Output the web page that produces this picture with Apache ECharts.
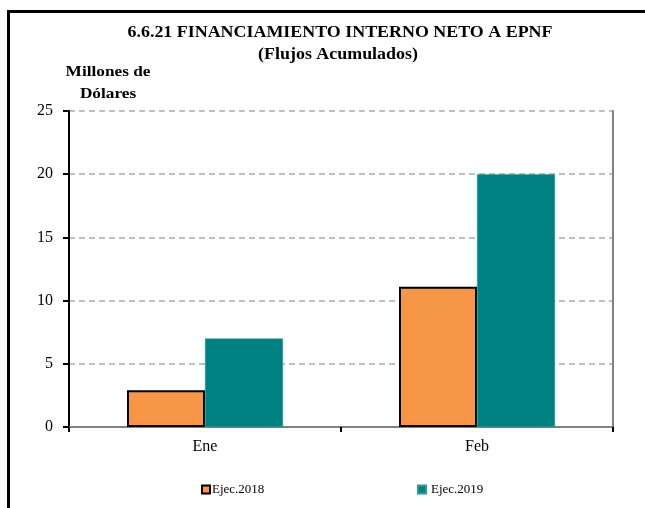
<!DOCTYPE html>
<html>
<head>
<meta charset="utf-8">
<script src="https://cdn.jsdelivr.net/npm/echarts@6/dist/echarts.min.js"></script>
<style>
  html, body { margin: 0; padding: 0; background: #ffffff; }
  #chart { width: 645px; height: 508px; }
</style>
</head>
<body>
<div id="chart"></div>
<script>
// Meses y flujos acumulados (millones de dólares)
const categories = ['Ene', 'Feb'];
const ejec2018 = [2.9, 11.1];
const ejec2019 = [7.0, 20.0];
const seriesNames = ['Ejec.2018', 'Ejec.2019'];
const yTicks = { min: 0, max: 25, interval: 5 };

const serif = '"Liberation Serif", "DejaVu Serif", serif';
const chart = echarts.init(document.getElementById('chart'));

// centred, slightly widened heading text
function heading(text, cx, cy, font, sx) {
  return {
    type: 'text', x: cx, y: cy, scaleX: sx, silent: true,
    style: { text: text, font: font, fill: '#000', align: 'center', verticalAlign: 'middle' }
  };
}

chart.setOption({
  animation: false,
  backgroundColor: '#ffffff',
  graphic: [
    {
      type: 'rect',
      shape: { x: 8.5, y: 11.5, width: 700, height: 600 },
      style: { fill: 'none', stroke: '#000000', lineWidth: 3 },
      silent: true
    },
    heading('6.6.21 FINANCIAMIENTO INTERNO NETO A EPNF', 340, 33, 'bold 16px ' + serif, 1.12),
    heading('(Flujos Acumulados)', 338, 55, 'bold 16px ' + serif, 1.12),
    heading('Millones de', 108, 72, 'bold 15px ' + serif, 1.15),
    heading('Dólares', 108, 94, 'bold 15px ' + serif, 1.15)
  ],
  legend: [
    {
      data: [seriesNames[0]], left: 201, top: 483, padding: 0,
      icon: 'rect', itemWidth: 8, itemHeight: 8, itemGap: 3,
      textStyle: { fontFamily: serif, fontSize: 13, color: '#000', padding: [0, 0, 0, -3] }
    },
    {
      data: [seriesNames[1]], left: 417, top: 483, padding: 0,
      icon: 'rect', itemWidth: 8, itemHeight: 8,
      textStyle: { fontFamily: serif, fontSize: 13, color: '#000', padding: [0, 0, 0, 0] }
    }
  ],
  grid: { left: 69, right: 32, top: 111, bottom: 81, containLabel: false },
  xAxis: [
    {
      type: 'category', data: categories,
      axisLine: { lineStyle: { color: '#000', width: 2 } },
      axisTick: { show: true, length: 5, inside: false, lineStyle: { color: '#000', width: 2 } },
      axisLabel: { fontFamily: serif, fontSize: 16, color: '#000', margin: 12 },
      splitLine: { show: false }
    },
    {
      type: 'category', data: categories, position: 'top',
      axisLine: { lineStyle: { color: '#808080', width: 2 } },
      axisTick: { show: false }, axisLabel: { show: false }
    }
  ],
  yAxis: [
    {
      type: 'value', min: yTicks.min, max: yTicks.max, interval: yTicks.interval,
      axisLine: { show: true, lineStyle: { color: '#000', width: 2 } },
      axisTick: { show: true, length: 6, lineStyle: { color: '#000', width: 2 } },
      axisLabel: { fontFamily: serif, fontSize: 16, color: '#000', margin: 16 },
      splitLine: { show: true, lineStyle: { color: '#c0c0c0', width: 2, type: [6, 4] } }
    },
    {
      type: 'value', min: yTicks.min, max: yTicks.max, interval: yTicks.interval, position: 'right',
      axisLine: { show: true, lineStyle: { color: '#808080', width: 2 } },
      axisTick: { show: false }, axisLabel: { show: false }, splitLine: { show: false }
    }
  ],
  series: [
    {
      name: seriesNames[0], type: 'bar', data: ejec2018,
      barWidth: 78, barGap: '0%',
      itemStyle: { color: '#F79646', borderColor: '#000000', borderWidth: 2 }
    },
    {
      name: seriesNames[1], type: 'bar', data: ejec2019,
      barWidth: 78,
      itemStyle: { color: '#008080', borderColor: '#2a9a9a', borderWidth: 0.5 }
    }
  ]
});
</script>
</body>
</html>
